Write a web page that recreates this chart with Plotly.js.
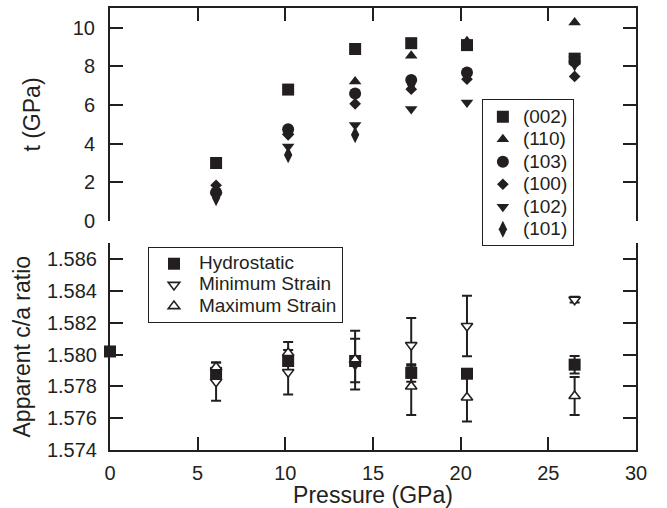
<!DOCTYPE html>
<html><head><meta charset="utf-8">
<script src="https://cdn.plot.ly/plotly-3.0.1.min.js"></script>
<style>html,body{margin:0;padding:0;background:#fff}#chart{width:667px;height:508px}</style>
</head><body><div id="chart"></div>
<script>
// ---- Top panel: t (GPa) vs pressure for each reflection ----
const pressure = [6.05, 10.16, 13.98, 17.18, 20.36, 26.5];
const t002 = [3.0, 6.8, 8.9, 9.2, 9.1, 8.4];
const t110 = [1.6, 4.6, 7.22, 8.55, 9.3, 10.27];
const t103 = [1.47, 4.75, 6.6, 7.3, 7.68, 8.25];
const t100 = [1.85, 4.46, 6.06, 6.82, 7.34, 7.48];
const t102 = [1.3, 3.85, 4.97, 5.79, 6.13, 8.35];
const t101 = [1.2, 3.42, 4.46, 7.05, 7.55, 8.15];
const reflectionNames = ['(002)', '(110)', '(103)', '(100)', '(102)', '(101)'];

// ---- Bottom panel: apparent c/a ratio ----
const pressureCA = [0, 6.05, 10.16, 13.98, 17.18, 20.36, 26.5];
const hydro = [1.5802, 1.57885, 1.5796, 1.5796, 1.57885, 1.5788, 1.57937];
const hydroErr = [0, 0, 0, 0, 0.00055, 0, 0.00055];
const pressureStrain = [6.05, 10.16, 13.98, 17.18, 20.36, 26.5];
const minStrain = [1.5783, 1.5789, 1.5794, 1.5806, 1.5818, 1.58346];
const minErr = [0.0012, 0.0014, 0.0016, 0.0017, 0.0019, 0.00018];
const maxStrain = [1.5792, 1.5801, 1.5797, 1.5780, 1.5773, 1.5774];
const maxErrPlus = [0.0003, 0.0007, 0.0018, 0.0013, 0.0015, 0.0012];
const maxErrMinus = [0.0003, 0.0007, 0.00144, 0.0018, 0.0015, 0.0012];
const caNames = ['Hydrostatic', 'Minimum Strain', 'Maximum Strain'];

const INK = '#231f20';
const FONT = 'Liberation Sans, Arial, Helvetica, sans-serif';
const big = (s) => '<span style="font-size:19px">' + s + '</span>';

const topSeries = [t002, t110, t103, t100, t102, t101];
const topSymbols = ['square', 'triangle-up', 'circle', 'diamond', 'triangle-down', 'diamond-tall'];
const topSizes = [12, 11, 12, 9, 11, 12];

const traces = [];
topSeries.forEach((ys, i) => {
  traces.push({
    x: pressure, y: ys, name: big(reflectionNames[i]), type: 'scatter', mode: 'markers',
    xaxis: 'x2', yaxis: 'y2', legend: 'legend',
    marker: {symbol: topSymbols[i], size: topSizes[i], color: INK, line: {width: 0}}
  });
});

const errStyle = {thickness: 2, width: 5, color: INK};
traces.push({
  x: pressureStrain, y: minStrain, name: big(caNames[1]), type: 'scatter', mode: 'markers',
  xaxis: 'x', yaxis: 'y', legend: 'legend2', legendrank: 2, cliponaxis: false,
  marker: {symbol: 'triangle-down', size: 10, color: '#ffffff', line: {color: INK, width: 1.6}},
  error_y: Object.assign({type: 'data', array: minErr, visible: true}, errStyle)
});
traces.push({
  x: pressureCA, y: hydro, name: big(caNames[0]), type: 'scatter', mode: 'markers',
  xaxis: 'x', yaxis: 'y', legend: 'legend2', legendrank: 1, cliponaxis: false,
  marker: {symbol: 'square', size: 12, color: INK, line: {width: 0}},
  error_y: Object.assign({type: 'data', array: hydroErr, visible: true}, errStyle)
});
traces.push({
  x: pressureStrain, y: maxStrain, name: big(caNames[2]), type: 'scatter', mode: 'markers',
  xaxis: 'x', yaxis: 'y', legend: 'legend2', legendrank: 3, cliponaxis: false,
  marker: {symbol: 'triangle-up', size: 10, color: '#ffffff', line: {color: INK, width: 1.6}},
  error_y: Object.assign({type: 'data', array: maxErrPlus, arrayminus: maxErrMinus, symmetric: false, visible: true}, errStyle)
});

const axBase = {
  showgrid: false, zeroline: false, showline: true, linecolor: INK, linewidth: 2,
  ticks: 'inside', ticklen: 13, tickwidth: 2, tickcolor: INK,
  tickfont: {family: FONT, size: 20, color: INK}
};
const titleFont = {family: FONT, size: 23, color: INK};

const layout = {
  width: 667, height: 508,
  margin: {l: 110, r: 31, t: 8, b: 58},
  paper_bgcolor: '#ffffff', plot_bgcolor: '#ffffff',
  font: {family: FONT, color: INK},
  showlegend: true,
  xaxis: Object.assign({}, axBase, {
    range: [0, 30], dtick: 5, tick0: 0, anchor: 'y', mirror: false,
    ticklabelstandoff: 4,
    title: {text: 'Pressure (GPa)', font: titleFont, standoff: 1}
  }),
  yaxis: Object.assign({}, axBase, {
    domain: [0, 0.4674], range: [1.574, 1.587], dtick: 0.002, tick0: 1.574,
    tickformat: '.3f', anchor: 'x', mirror: 'ticks', ticklabelstandoff: 7,
    title: {text: 'Apparent c/a ratio', font: titleFont, standoff: 10}
  }),
  xaxis2: Object.assign({}, axBase, {
    range: [0, 30], dtick: 5, tick0: 0, anchor: 'y2', side: 'top', showticklabels: false,
    matches: 'x'
  }),
  yaxis2: Object.assign({}, axBase, {
    domain: [0.5181, 1], range: [0, 11.02], dtick: 2, tick0: 0,
    anchor: 'x2', mirror: 'ticks', ticklabelstandoff: 9,
    title: {text: 't (GPa)', font: titleFont, standoff: 26}
  }),
  legend: {
    x: 0.707, y: 0.793, xanchor: 'left', yanchor: 'top',
    bordercolor: INK, borderwidth: 1, bgcolor: '#ffffff',
    font: {family: FONT, size: 15, color: INK}, tracegroupgap: 0, itemwidth: 30
  },
  legend2: {
    x: 0.0722, y: 0.459, xanchor: 'left', yanchor: 'top',
    bordercolor: INK, borderwidth: 1, bgcolor: '#ffffff', traceorder: 'normal',
    font: {family: FONT, size: 14, color: INK}, tracegroupgap: 0, itemwidth: 40
  }
};

Plotly.newPlot('chart', traces, layout, {displayModeBar: false, staticPlot: true});
</script>
</body></html>
